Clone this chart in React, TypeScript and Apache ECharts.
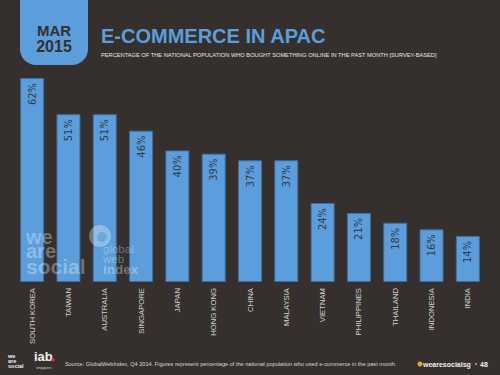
import React, { useEffect, useRef } from "react";
import * as echarts from "echarts";

const categories = [
  "SOUTH KOREA", "TAIWAN", "AUSTRALIA", "SINGAPORE", "JAPAN", "HONG KONG", "CHINA",
  "MALAYSIA", "VIETNAM", "PHILIPPINES", "THAILAND", "INDONESIA", "INDIA",
];
const values = [62, 51, 51, 46, 40, 39, 37, 37, 24, 21, 18, 16, 14];

const BG = "#35302d";
const BLUE = "#5c9edb";
const WM = "rgba(255,255,255,0.32)";
const F = "Liberation Sans, Arial, sans-serif";

function wm(x: number, y: number, text: string, font: string) {
  return { type: "text", z: 100, style: { x, y, text, fill: WM, font, textVerticalAlign: "middle" } };
}

export default function App() {
  const ref = useRef<HTMLDivElement>(null);
  useEffect(() => {
    const chart = echarts.init(ref.current!, null, { renderer: "svg" });
    chart.setOption({
      animation: false,
      backgroundColor: BG,
      grid: { left: 14, right: 14, top: 78, bottom: 93 },
      xAxis: {
        type: "category",
        data: categories,
        axisLine: { show: false },
        axisTick: { show: false },
        axisLabel: {
          rotate: 90,
          interval: 0,
          margin: 6,
          color: "#d4d4d4",
          fontSize: 7.7,
          fontFamily: F,
        },
      },
      yAxis: { type: "value", min: 0, max: 62, show: false, splitLine: { show: false } },
      series: [
        {
          type: "bar",
          data: values,
          barWidth: 24,
          itemStyle: { color: BLUE, borderColor: "#3e6e9c", borderWidth: 1 },
          label: {
            show: true,
            position: "insideTop",
            rotate: 90,
            align: "right",
            verticalAlign: "middle",
            distance: 5,
            formatter: "{c}%",
            color: "#2e3b47",
            fontSize: 11,
            fontFamily: "DejaVu Sans Condensed, Liberation Sans Narrow, sans-serif",
          },
        },
      ],
      graphic: [
        {
          type: "rect",
          shape: { x: 20, y: -20, width: 68, height: 85, r: [0, 0, 16, 16] },
          style: { fill: BLUE },
        },
        {
          type: "text",
          style: { x: 54, y: 23, text: "MAR", fill: BG, font: `bold 15px ${F}`, textAlign: "center", textVerticalAlign: "top" },
        },
        {
          type: "text",
          style: { x: 54, y: 38, text: "2015", fill: BG, font: `bold 16px ${F}`, textAlign: "center", textVerticalAlign: "top" },
        },
        {
          type: "text",
          style: { x: 101, y: 46, text: "E-COMMERCE IN APAC", fill: BLUE, font: `bold 20px ${F}`, textVerticalAlign: "bottom" },
        },
        {
          type: "text",
          style: {
            x: 101, y: 55,
            text: "PERCENTAGE OF THE NATIONAL POPULATION WHO BOUGHT SOMETHING ONLINE IN THE PAST MONTH [SURVEY-BASED]",
            fill: "#e8e8e8", font: `5.7px ${F}`, textVerticalAlign: "middle",
          },
        },
        // watermark
        {
          type: "group",
          z: 100,
          children: [
            wm(26, 237, "we", `bold 20px ${F}`),
            wm(26, 251, "are", `bold 20px ${F}`),
            wm(26, 266, "social", `bold 21px ${F}`),
            { type: "circle", z: 100, shape: { cx: 100, cy: 236, r: 11 }, style: { fill: WM } },
            { type: "circle", z: 101, shape: { cx: 102, cy: 237, r: 5 }, style: { fill: "rgba(92,158,219,0.7)" } },
            wm(103, 249, "global", `11.5px ${F}`),
            wm(103, 259, "web", `11.5px ${F}`),
            wm(103, 269, "index", `bold 13.5px ${F}`),
          ],
        },
        // footer
        {
          type: "text",
          style: {
            x: 8, y: 353, text: "we\nare\nsocial", fill: "#f0f0f0",
            font: `bold 5.5px ${F}`, lineHeight: 5, textVerticalAlign: "top",
          },
        },
        {
          type: "text",
          style: { x: 34, y: 350, text: "iab", fill: "#f0f0f0", font: `bold 13px ${F}`, textVerticalAlign: "top" },
        },
        { type: "circle", shape: { cx: 53, cy: 360, r: 1.6 }, style: { fill: "#e0362c" } },
        {
          type: "text",
          style: { x: 36, y: 366, text: "singapore", fill: "#d0d0d0", font: `3.5px ${F}`, textVerticalAlign: "top" },
        },
        {
          type: "text",
          style: {
            x: 65, y: 364,
            text: "Source: GlobalWebIndex, Q4 2014. Figures represent percentage of the national population who used e-commerce in the past month.",
            fill: "#d8d8d8", font: `5.6px ${F}`, textVerticalAlign: "middle",
          },
        },
        { type: "circle", shape: { cx: 420, cy: 364, r: 2.5 }, style: { fill: "#e8a33a" } },
        {
          type: "text",
          style: { x: 423, y: 364, text: "wearesocialsg", fill: "#f0f0f0", font: `bold 7px ${F}`, textVerticalAlign: "middle" },
        },
        { type: "circle", shape: { cx: 476, cy: 364, r: 1 }, style: { fill: "#e8a33a" } },
        {
          type: "text",
          style: { x: 480, y: 364, text: "48", fill: "#f0f0f0", font: `bold 7px ${F}`, textVerticalAlign: "middle" },
        },
      ],
    });
    return () => chart.dispose();
  }, []);
  return <div ref={ref} style={{ width: 500, height: 375, position: "absolute", left: 0, top: 0 }} />;
}
